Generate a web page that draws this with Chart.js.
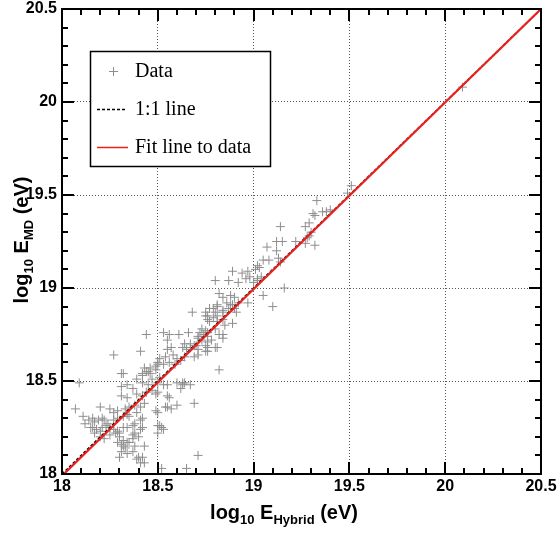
<!DOCTYPE html>
<html>
<head>
<meta charset="utf-8">
<script src="https://cdn.jsdelivr.net/npm/chart.js@4"></script>
<style>
html, body { margin: 0; padding: 0; background: #fff; }
</style>
</head>
<body>
<canvas id="chart" width="560" height="534"></canvas>
<script>
// log10 E_Hybrid (x) and log10 E_MD (y) for each event
const logEHybrid = [
    18.07, 18.09, 18.11, 18.12, 18.14, 18.15, 18.16, 18.16, 18.17, 18.17,
    18.18, 18.19, 18.20, 18.20, 18.20, 18.21, 18.21, 18.22, 18.22, 18.23,
    18.24, 18.25, 18.25, 18.25, 18.27, 18.27, 18.27, 18.28, 18.29, 18.29,
    18.29, 18.29, 18.30, 18.30, 18.30, 18.31, 18.31, 18.31, 18.31, 18.31,
    18.32, 18.32, 18.32, 18.32, 18.33, 18.33, 18.34, 18.34, 18.34, 18.34,
    18.34, 18.34, 18.35, 18.35, 18.35, 18.37, 18.37, 18.37, 18.37, 18.38,
    18.38, 18.38, 18.39, 18.39, 18.39, 18.39, 18.40, 18.40, 18.41, 18.41,
    18.41, 18.41, 18.42, 18.42, 18.42, 18.42, 18.42, 18.42, 18.43, 18.43,
    18.44, 18.44, 18.45, 18.46, 18.47, 18.47, 18.49, 18.49, 18.50, 18.50,
    18.50, 18.50, 18.51, 18.51, 18.52, 18.52, 18.53,
    18.53, 18.55, 18.55, 18.56, 18.55, 18.57, 18.60, 18.60, 18.62, 18.63,
    18.64, 18.67, 18.69, 18.71, 18.65, 18.82,
    18.27, 18.41, 18.44, 18.53, 18.56, 18.55, 18.61, 18.66, 18.64, 18.67,
    18.65, 18.69, 18.71, 18.55, 18.57, 18.54, 18.58, 18.60, 18.50, 18.53,
    18.56, 18.59, 18.62, 18.46, 18.49, 18.45, 18.42, 18.32, 18.43, 18.50,
    18.51, 18.63, 18.68, 18.71, 18.69, 18.64, 18.76, 18.50, 18.54, 18.63,
    18.75, 18.79, 18.81, 18.84, 18.88, 18.90, 18.89, 18.84, 18.76, 18.80,
    18.73, 18.67, 18.82, 18.84, 18.88, 18.90, 18.86, 18.89, 18.92, 18.87,
    18.91, 18.84, 18.81, 18.77, 18.80, 18.81, 18.76, 18.75, 18.79, 18.81,
    18.77, 18.76, 18.84, 18.85, 18.73, 18.75, 18.72, 18.74, 18.71, 18.76,
    18.76, 18.78, 18.82, 18.84, 18.76, 18.75, 18.80, 18.81, 18.75, 18.71,
    18.70,
    18.89, 18.94, 18.97, 19.03, 19.04, 19.02, 18.96, 18.87, 18.80, 18.92,
    19.00, 19.02, 19.16, 19.05, 18.97, 19.10, 18.98, 19.01,
    19.05, 19.08, 19.13, 19.14, 19.07, 19.12, 19.15, 19.22, 19.27, 19.32,
    19.12, 19.14, 19.27, 19.29, 19.30, 19.29, 19.28, 19.36, 19.38, 19.40,
    19.31, 19.33, 19.32, 19.51, 19.49, 20.09, 19.02,
    18.37, 18.38, 18.43, 18.49
];
const logEMD = [
    18.35, 18.49, 18.31, 18.27, 18.29, 18.25, 18.30, 18.25, 18.28, 18.22,
    18.24, 18.29, 18.36, 18.23, 18.20, 18.30, 18.25, 18.29, 18.19, 18.26,
    18.27, 18.35, 18.25, 18.21, 18.33, 18.29, 18.24, 18.22, 18.23, 18.34,
    18.30, 18.17, 18.22, 18.20, 18.09, 18.54, 18.47, 18.42, 18.16, 18.12,
    18.31, 18.25, 18.18, 18.15, 18.35, 18.14, 18.48, 18.41, 18.25, 18.17,
    18.11, 18.32, 18.36, 18.31, 18.17, 18.46, 18.26, 18.21, 18.12, 18.37,
    18.27, 18.22, 18.51, 18.43, 18.33, 18.08, 18.20, 18.09, 18.36, 18.29,
    18.24, 18.06, 18.53, 18.49, 18.42, 18.30, 18.25, 18.09, 18.38, 18.06,
    18.55, 18.44, 18.48, 18.54, 18.51, 18.45, 18.56, 18.43, 18.49, 18.33,
    18.22, 18.26, 18.52, 18.26, 18.25, 18.03, 18.24,
    18.48, 18.48, 18.42, 18.41, 18.36, 18.35, 18.37, 18.49, 18.46, 18.48,
    18.49, 18.48, 18.38, 18.10, 18.03, 18.56,
    18.64, 18.66, 18.75, 18.76, 18.75, 18.72, 18.75, 18.76, 18.70, 18.68,
    18.67, 18.69, 18.73, 18.67, 18.68, 18.63, 18.64, 18.62, 18.60, 18.59,
    18.60, 18.59, 18.61, 18.57, 18.58, 18.55, 18.54, 18.54, 18.57, 18.59,
    18.62, 18.68, 18.87, 18.67, 18.63, 18.63, 18.66, 18.44, 18.36, 18.49,
    18.85, 18.89, 18.90, 18.87, 18.91, 18.89, 18.81, 18.75, 18.76, 18.78,
    18.72, 18.70, 18.97, 18.95, 18.96, 18.95, 18.92, 18.91, 18.92, 18.89,
    18.87, 18.88, 18.91, 18.89, 18.87, 18.85, 18.85, 18.87, 18.84, 18.82,
    18.82, 18.83, 18.83, 18.80, 18.78, 18.77, 18.76, 18.75, 18.74, 18.74,
    18.71, 18.72, 18.75, 18.73, 18.68, 18.69, 18.68, 18.68, 18.66, 18.64,
    18.69,
    19.09, 19.08, 19.09, 19.11, 19.06, 19.05, 19.05, 19.04, 19.04, 19.03,
    19.03, 19.04, 19.00, 18.96, 18.92, 18.90, 19.06, 19.10,
    19.15, 19.15, 19.16, 19.14, 19.22, 19.25, 19.25, 19.25, 19.24, 19.23,
    19.20, 19.33, 19.33, 19.35, 19.30, 19.28, 19.27, 19.41, 19.41, 19.42,
    19.40, 19.47, 19.39, 19.55, 19.51, 20.08, 19.12,
    18.19, 18.15, 18.15, 18.34
];

// reference lines
const unityX = [18, 20.5];
const unityY = [18, 20.5];
const fitX = [18, 20.5];
const fitY = [17.99, 20.5];

const axisTicks = [18, 18.5, 19, 19.5, 20, 20.5];

const FONT = '"Liberation Sans", Arial, sans-serif';
const SERIF = '"Liberation Serif", "Times New Roman", serif';

// draws "log10 E_xx (eV)" with subscripts, centred on 0,0 of the current transform
function drawSubText(ctx, parts) {
    const big = 'bold 20px ' + FONT;
    const small = 'bold 13px ' + FONT;
    let total = 0;
    parts.forEach(p => {
        ctx.font = p.sub ? small : big;
        total += ctx.measureText(p.t).width;
    });
    let cx = -total / 2;
    ctx.textBaseline = 'alphabetic';
    ctx.textAlign = 'left';
    parts.forEach(p => {
        ctx.font = p.sub ? small : big;
        ctx.fillText(p.t, cx, p.sub ? 5 : 0);
        cx += ctx.measureText(p.t).width;
    });
}

const framePlugin = {
    id: 'frame',
    afterDatasetsDraw(chart) {
        const { ctx, chartArea: { left, right, top, bottom }, scales: { x, y } } = chart;
        ctx.save();
        ctx.strokeStyle = '#000';
        ctx.lineWidth = 2;
        ctx.strokeRect(left, top, right - left, bottom - top);
        // inward ticks on all four sides, minor every 0.1
        ctx.beginPath();
        for (let i = 0; i <= 25; i++) {
            const v = 18 + i * 0.1;
            const len = i % 5 === 0 ? 12 : 6;
            const px = Math.round(x.getPixelForValue(v));
            const py = Math.round(y.getPixelForValue(v));
            ctx.moveTo(px, bottom); ctx.lineTo(px, bottom - len);
            ctx.moveTo(px, top); ctx.lineTo(px, top + len);
            ctx.moveTo(left, py); ctx.lineTo(left + len, py);
            ctx.moveTo(right, py); ctx.lineTo(right - len, py);
        }
        ctx.stroke();
        ctx.restore();
    },
    afterDraw(chart) {
        const { ctx } = chart;
        ctx.save();
        ctx.fillStyle = '#000';

        // axis titles
        ctx.save();
        ctx.translate(284, 519);
        drawSubText(ctx, [{ t: 'log' }, { t: '10', sub: true }, { t: ' E' }, { t: 'Hybrid', sub: true }, { t: ' (eV)' }]);
        ctx.restore();

        ctx.save();
        ctx.translate(28, 240);
        ctx.rotate(-Math.PI / 2);
        drawSubText(ctx, [{ t: 'log' }, { t: '10', sub: true }, { t: ' E' }, { t: 'MD', sub: true }, { t: ' (eV)' }]);
        ctx.restore();

        // legend box
        ctx.fillStyle = '#fff';
        ctx.fillRect(90, 51, 180, 115);
        ctx.strokeStyle = '#000';
        ctx.lineWidth = 1.5;
        ctx.strokeRect(90.5, 51.5, 180, 115);

        const ds = chart.data.datasets;
        ctx.font = '20px ' + SERIF;
        ctx.fillStyle = '#000';
        ctx.textBaseline = 'middle';
        ctx.textAlign = 'left';

        // Data
        ctx.strokeStyle = ds[0].borderColor;
        ctx.lineWidth = 1;
        ctx.beginPath();
        ctx.moveTo(109, 71.5); ctx.lineTo(118, 71.5);
        ctx.moveTo(113.5, 67); ctx.lineTo(113.5, 76);
        ctx.stroke();
        ctx.fillText(ds[0].label, 135, 72);

        // 1:1 line
        ctx.strokeStyle = ds[1].borderColor;
        ctx.lineWidth = 1.5;
        ctx.setLineDash([3, 2]);
        ctx.beginPath();
        ctx.moveTo(97, 109.5); ctx.lineTo(127, 109.5);
        ctx.stroke();
        ctx.setLineDash([]);
        ctx.fillText(ds[1].label, 135, 110);

        // fit
        ctx.strokeStyle = ds[2].borderColor;
        ctx.lineWidth = 1.5;
        ctx.beginPath();
        ctx.moveTo(97, 147.5); ctx.lineTo(128, 147.5);
        ctx.stroke();
        ctx.fillText(ds[2].label, 135, 148);

        ctx.restore();
    }
};

const ctx = document.getElementById('chart').getContext('2d');
const chart = new Chart(ctx, {
    type: 'scatter',
    data: {
        datasets: [
            {
                label: 'Data',
                data: logEHybrid.map((v, i) => ({ x: v, y: logEMD[i] })),
                pointStyle: 'cross',
                pointRadius: 4.5,
                borderColor: '#8e8e8e',
                backgroundColor: '#8e8e8e',
                borderWidth: 1,
                order: 3
            },
            {
                label: '1:1 line',
                data: unityX.map((v, i) => ({ x: v, y: unityY[i] })),
                showLine: true,
                borderColor: '#000',
                borderWidth: 1.5,
                borderDash: [3, 2],
                pointRadius: 0,
                order: 2
            },
            {
                label: 'Fit line to data',
                data: fitX.map((v, i) => ({ x: v, y: fitY[i] })),
                showLine: true,
                borderColor: '#e8221e',
                borderWidth: 2.2,
                pointRadius: 0,
                order: 1
            }
        ]
    },
    options: {
        responsive: false,
        animation: false,
        layout: { padding: { top: 9, right: 19, left: 0, bottom: 0 } },
        plugins: {
            legend: { display: false },
            tooltip: { enabled: false }
        },
        scales: {
            x: {
                type: 'linear',
                min: 18,
                max: 20.5,
                afterBuildTicks: s => { s.ticks = axisTicks.map(v => ({ value: v })); },
                afterFit: s => { s.height = 60; s.paddingLeft = 0; s.paddingRight = 0; },
                ticks: {
                    autoSkip: false,
                    maxRotation: 0,
                    padding: 3,
                    color: '#000',
                    font: { family: FONT, weight: 'bold', size: 16 },
                    callback: v => String(v)
                },
                grid: { color: '#555', lineWidth: 1, drawTicks: false },
                border: { display: false, dash: [1, 2] }
            },
            y: {
                type: 'linear',
                min: 18,
                max: 20.5,
                afterBuildTicks: s => { s.ticks = axisTicks.map(v => ({ value: v })); },
                afterFit: s => { s.width = 62; s.paddingTop = 0; s.paddingBottom = 0; },
                ticks: {
                    autoSkip: false,
                    padding: 5,
                    color: '#000',
                    font: { family: FONT, weight: 'bold', size: 16 },
                    callback: v => String(v)
                },
                grid: { color: '#555', lineWidth: 1, drawTicks: false },
                border: { display: false, dash: [1, 2] }
            }
        }
    },
    plugins: [framePlugin]
});
</script>
</body>
</html>
